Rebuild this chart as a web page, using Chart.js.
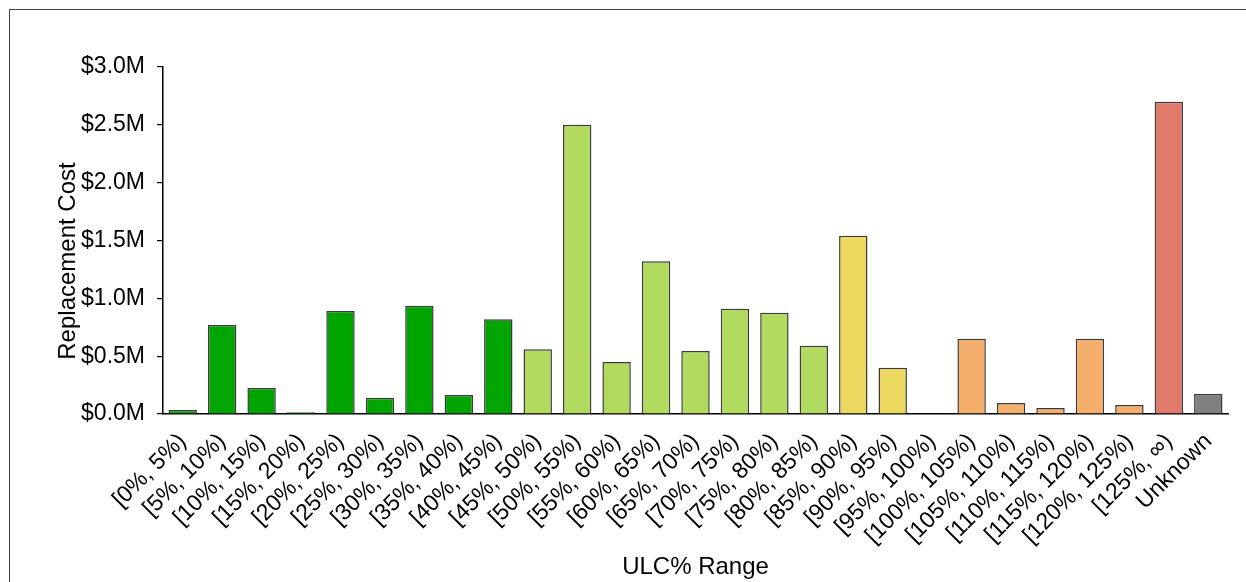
<!DOCTYPE html>
<html>
<head>
<meta charset="utf-8">
<script src="https://cdn.jsdelivr.net/npm/chart.js@4.4.1/dist/chart.umd.min.js"></script>
<style>
  html, body { margin: 0; padding: 0; background: #fff; overflow: hidden; }
  #wrap { position: absolute; left: 0; top: 0; width: 1246px; height: 582px; }
  #frame { position: absolute; left: 9px; top: 9px; width: 1400px; height: 800px; border: 1.5px solid #404040; pointer-events: none; }
</style>
</head>
<body>
<div id="wrap"><canvas id="c" width="1246" height="582"></canvas></div>
<div id="frame"></div>
<script>
const categories = ["[0%, 5%)", "[5%, 10%)", "[10%, 15%)", "[15%, 20%)", "[20%, 25%)", "[25%, 30%)", "[30%, 35%)", "[35%, 40%)", "[40%, 45%)", "[45%, 50%)", "[50%, 55%)", "[55%, 60%)", "[60%, 65%)", "[65%, 70%)", "[70%, 75%)", "[75%, 80%)", "[80%, 85%)", "[85%, 90%)", "[90%, 95%)", "[95%, 100%)", "[100%, 105%)", "[105%, 110%)", "[110%, 115%)", "[115%, 120%)", "[120%, 125%)", "[125%, \u221E)", "Unknown"];
// replacement cost in $M
const costValues = [0.035, 0.77, 0.225, 0.015, 0.89, 0.14, 0.935, 0.165, 0.82, 0.56, 2.50, 0.45, 1.32, 0.545, 0.91, 0.875, 0.59, 1.54, 0.40, 0, 0.65, 0.095, 0.052, 0.65, 0.078, 2.70, 0.173];
const bandColors = ["#00A500", "#00A500", "#00A500", "#00A500", "#00A500", "#00A500", "#00A500", "#00A500", "#00A500", "#B0DB5E", "#B0DB5E", "#B0DB5E", "#B0DB5E", "#B0DB5E", "#B0DB5E", "#B0DB5E", "#B0DB5E", "#EDD95F", "#EDD95F", "#EDD95F", "#F5AE6B", "#F5AE6B", "#F5AE6B", "#F5AE6B", "#F5AE6B", "#E07B6C", "#808080"];
const yTicks = [0, 0.5, 1.0, 1.5, 2.0, 2.5, 3.0];
const yTitle = "Replacement Cost";
const xTitle = "ULC% Range";

const FONT = "'Liberation Sans', Arial, sans-serif";

const yTitlePlugin = {
  id: 'yTitlePlugin',
  afterDraw(chart) {
    const ctx = chart.ctx;
    ctx.save();
    ctx.translate(68, 261);
    ctx.rotate(-Math.PI / 2);
    ctx.font = "24px " + FONT;
    ctx.fillStyle = "#000";
    ctx.textAlign = "center";
    ctx.textBaseline = "middle";
    ctx.fillText(yTitle, 0, 0);
    ctx.restore();
  }
};

new Chart(document.getElementById('c'), {
  type: 'bar',
  data: {
    labels: categories,
    datasets: [{
      data: costValues,
      backgroundColor: bandColors,
      borderColor: "#3a3a3a",
      borderWidth: 1.5,
      borderSkipped: 'bottom',
      barPercentage: 0.72,
      categoryPercentage: 1.0
    }]
  },
  options: {
    responsive: false,
    animation: false,
    devicePixelRatio: 1,
    layout: { padding: { top: 67, right: 18, bottom: 0, left: 0 } },
    plugins: { legend: { display: false }, tooltip: { enabled: false } },
    scales: {
      x: {
        grid: { display: false, drawTicks: false },
        border: { display: true, color: "#000", width: 1.5 },
        ticks: {
          autoSkip: false, minRotation: 45, maxRotation: 45,
          color: "#000", font: { family: FONT, size: 23 }, padding: 14
        },
        title: { display: true, text: xTitle, color: "#000", font: { family: FONT, size: 24 }, padding: { top: 0, bottom: 0 } },
        afterFit(scale) { scale.height = 582 - 414; }
      },
      y: {
        min: 0, max: 3.0,
        afterBuildTicks(scale) { scale.ticks = yTicks.map(v => ({ value: v })); },
        grid: { display: true, drawOnChartArea: false, drawTicks: true, tickLength: 6, color: "#000", lineWidth: 1.2 },
        border: { display: true, color: "#000", width: 1.5 },
        ticks: {
          color: "#000", font: { family: FONT, size: 23 }, padding: 12,
          callback: v => "$" + Number(v).toFixed(1) + "M"
        },
        afterFit(scale) { scale.width = 163; }
      }
    }
  },
  plugins: [yTitlePlugin]
});
</script>
</body>
</html>
